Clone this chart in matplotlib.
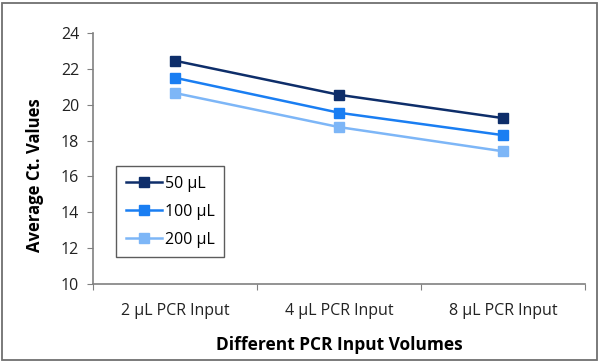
import matplotlib.pyplot as plt
from matplotlib.patches import Rectangle

plt.rcParams['font.family'] = ['Open Sans', 'DejaVu Sans']

categories = ["2 µL PCR Input", "4 µL PCR Input", "8 µL PCR Input"]
series_names = ["50 µL", "100 µL", "200 µL"]
ct_50 = [22.45, 20.55, 19.25]
ct_100 = [21.5, 19.55, 18.3]
ct_200 = [20.65, 18.75, 17.4]
colors = ["#0E2E6A", "#1A7EF2", "#7DB6F7"]

fig = plt.figure(figsize=(6, 3.62), dpi=100)
ax = fig.add_axes([0.155, 0.2155, 0.82, 0.6935])

# grey frame round the whole picture
fig.patches.append(Rectangle((0.004, 0.006), 0.991, 0.986, transform=fig.transFigure,
                             fill=False, edgecolor="#707070", linewidth=1.3))

xs = [i + 0.5 for i in range(len(categories))]
for vals, name, c in zip([ct_50, ct_100, ct_200], series_names, colors):
    ax.plot(xs, vals, color=c, linewidth=1.8, marker="s", markersize=6.5, label=name)

ax.set_xlim(0, 3)
ax.set_ylim(10, 24)
ax.set_yticks(range(10, 25, 2))
ax.set_xticks([0, 1, 2, 3])
ax.set_xticklabels([])
ax.set_xticks(xs, minor=True)
ax.set_xticklabels(categories, minor=True)
ax.tick_params(axis="x", which="minor", length=0, pad=14, labelsize=11.5, labelcolor="#222222")
ax.tick_params(axis="x", which="major", length=4, color="#808080")
ax.tick_params(axis="y", length=4, color="#808080", labelsize=11.5, labelcolor="#222222", pad=6)

for s in ["top", "right"]:
    ax.spines[s].set_visible(False)
for s in ["left", "bottom"]:
    ax.spines[s].set_color("#808080")
    ax.spines[s].set_linewidth(1.2)

ax.set_ylabel("Average Ct. Values", fontsize=12, fontweight="bold", labelpad=10)
ax.yaxis.set_label_coords(-0.10, 0.434)
ax.set_xlabel("Different PCR Input Volumes", fontsize=12.5, fontweight="bold", labelpad=12)

leg = ax.legend(loc="upper left", bbox_to_anchor=(0.0467, 0.47), borderaxespad=0,
                fontsize=11.5, frameon=True, fancybox=False, edgecolor="#333333",
                handlelength=2.3, labelspacing=0.75, borderpad=0.6, handletextpad=0.15)
leg.get_frame().set_linewidth(1.0)

fig.savefig("out.png", dpi=100)
